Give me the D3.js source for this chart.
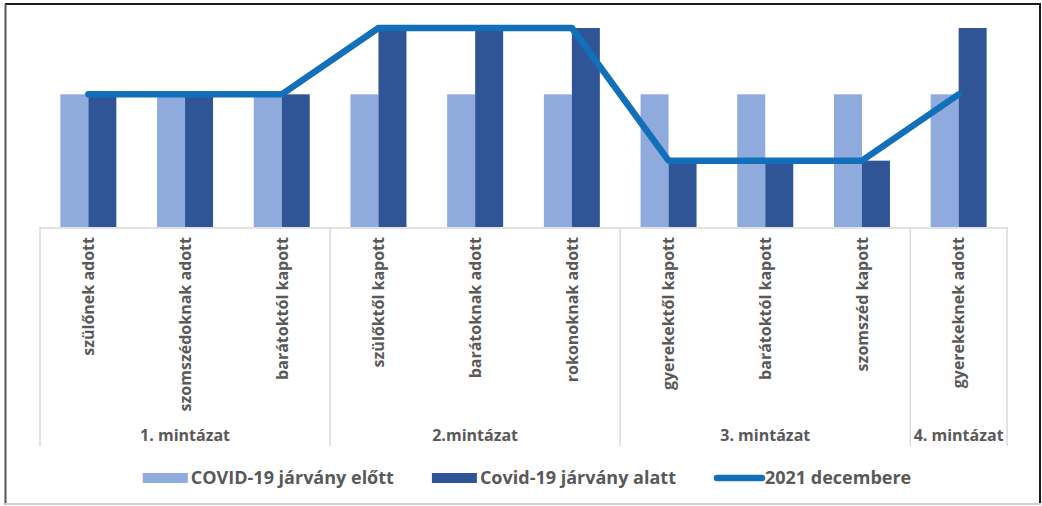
<!DOCTYPE html>
<html>
<head>
<meta charset="utf-8">
<script src="https://cdn.jsdelivr.net/npm/d3@7"></script>
<style>
  html, body { margin: 0; padding: 0; background: #ffffff; }
  svg { display: block; }
  text { font-family: "Open Sans", "Noto Sans", sans-serif; font-weight: bold; fill: #595959; }
</style>
</head>
<body>
<svg id="chart" width="1042" height="506"></svg>
<script>
// ---- data ----
const categories = [
  "szülőnek adott", "szomszédoknak adott", "barátoktól kapott",
  "szülőktől kapott", "barátoknak adott", "rokonoknak adott",
  "gyerekektől kapott", "barátoktól kapott ", "szomszéd kapott",
  "gyerekeknek adott"
];
const groups = ["1. mintázat", "2.mintázat", "3. mintázat", "4. mintázat"];
const groupSizes = [3, 3, 3, 1];
const seriesNames = ["COVID-19 járvány előtt", "Covid-19 járvány alatt", "2021 decembere"];
const before = [2, 2, 2, 2, 2, 2, 2, 2, 2, 2];
const during = [2, 2, 2, 3, 3, 3, 1, 1, 1, 3];
const dec2021 = [2, 2, 2, 3, 3, 3, 1, 1, 1, 2];

// ---- style ----
const colors = { before: "#8FAADC", during: "#2F5597", line: "#1170B9", axis: "#D9D9D9" };

const svg = d3.select("#chart");

// frame
svg.append("line").attr("x1", 5).attr("x2", 1041).attr("y1", 4).attr("y2", 4).attr("stroke", "#1a1a1a").attr("stroke-width", 2);
svg.append("line").attr("x1", 5.5).attr("x2", 5.5).attr("y1", 4).attr("y2", 505).attr("stroke", "#555").attr("stroke-width", 2);
svg.append("line").attr("x1", 1040).attr("x2", 1040).attr("y1", 4).attr("y2", 505).attr("stroke", "#1a1a1a").attr("stroke-width", 2);
svg.append("line").attr("x1", 5).attr("x2", 1041).attr("y1", 504).attr("y2", 504).attr("stroke", "#cfcfcf").attr("stroke-width", 2);

const plotLeft = 40, plotRight = 1007, baseY = 227, topY = 28;

const x = d3.scaleBand().domain(d3.range(categories.length)).range([plotLeft, plotRight]).padding(0);
const bw = x.bandwidth();
const barW = 28;
const x1 = d3.scaleBand().domain(["before", "during"]).range([bw / 2 - barW, bw / 2 + barW]).padding(0);
const y = d3.scaleLinear().domain([0, 3]).range([baseY, topY]);

// bars
const gBars = svg.append("g");
[["before", before], ["during", during]].forEach(([key, vals]) => {
  gBars.selectAll("rect." + key).data(vals).enter().append("rect")
    .attr("class", key)
    .attr("x", (d, i) => x(i) + x1(key))
    .attr("width", x1.bandwidth())
    .attr("y", d => y(d))
    .attr("height", d => y(0) - y(d))
    .attr("fill", colors[key]);
});

// line
const line = d3.line().x((d, i) => x(i) + bw / 2).y(d => y(d));
svg.append("path").datum(dec2021)
  .attr("d", line)
  .attr("fill", "none")
  .attr("stroke", colors.line)
  .attr("stroke-width", 6.5)
  .attr("stroke-linecap", "round")
  .attr("stroke-linejoin", "round");

// category axis (multi-level)
const axisBottom = 446;
const gAxis = svg.append("g");
gAxis.append("line").attr("x1", plotLeft).attr("x2", plotRight).attr("y1", baseY + 1).attr("y2", baseY + 1)
  .attr("stroke", colors.axis).attr("stroke-width", 1.5);

let idx = 0;
const boundaries = [0];
groupSizes.forEach(n => { idx += n; boundaries.push(idx); });
const bx = i => (i < categories.length ? x(i) : x(categories.length - 1) + bw);
boundaries.forEach(b => {
  gAxis.append("line").attr("x1", bx(b)).attr("x2", bx(b)).attr("y1", baseY).attr("y2", axisBottom)
    .attr("stroke", colors.axis).attr("stroke-width", 1.5);
});

categories.forEach((c, i) => {
  gAxis.append("text")
    .attr("transform", `translate(${x(i) + bw / 2},237) rotate(-90)`)
    .attr("text-anchor", "end")
    .attr("dy", "0.36em")
    .style("font-size", "16px")
    .text(c.trim());
});

groups.forEach((g, k) => {
  const cx = (bx(boundaries[k]) + bx(boundaries[k + 1])) / 2;
  gAxis.append("text")
    .attr("x", cx).attr("y", 435)
    .attr("text-anchor", "middle")
    .attr("dy", "0.36em")
    .style("font-size", "16px")
    .text(g);
});

// legend
const legend = svg.append("g");
const legY = 478;
const items = [
  { name: seriesNames[0], type: "rect", color: colors.before },
  { name: seriesNames[1], type: "rect", color: colors.during },
  { name: seriesNames[2], type: "line", color: colors.line }
];
let lx = 0;
items.forEach(it => {
  const g = legend.append("g").attr("transform", `translate(${lx},0)`);
  if (it.type === "rect") {
    g.append("rect").attr("x", 0).attr("y", legY - 5).attr("width", 45).attr("height", 10).attr("fill", it.color);
  } else {
    g.append("line").attr("x1", 3).attr("x2", 48).attr("y1", legY).attr("y2", legY)
      .attr("stroke", it.color).attr("stroke-width", 6.5).attr("stroke-linecap", "round");
  }
  const t = g.append("text").attr("x", it.type === "rect" ? 48 : 51).attr("y", legY).attr("dy", "0.36em")
    .style("font-size", "18px").text(it.name);
  const w = t.node().getComputedTextLength();
  lx += (it.type === "rect" ? 48 : 51) + w + 38;
});
const totalW = lx - 38;
legend.attr("transform", `translate(${527 - totalW / 2},0)`);
</script>
</body>
</html>
